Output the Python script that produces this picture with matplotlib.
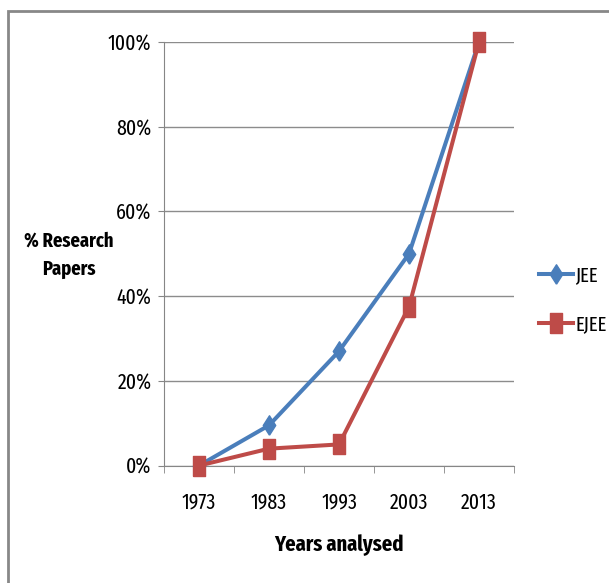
import matplotlib
matplotlib.use("Agg")
import matplotlib.pyplot as plt
from matplotlib.patches import Rectangle

years = ["1973", "1983", "1993", "2003", "2013"]
jee = [0, 9.5, 27, 50, 100]
ejee = [0, 4, 5, 37.5, 100]

plt.rcParams["font.family"] = ["Fira Sans Extra Condensed", "Saira ExtraCondensed", "DejaVu Sans"]

# the source picture is squeezed sideways, so the markers are tall shapes
tall_diamond = [(0, -0.5), (0.32, 0), (0, 0.5), (-0.32, 0), (0, -0.5)]
tall_square = [(-0.29, -0.5), (0.29, -0.5), (0.29, 0.5), (-0.29, 0.5), (-0.29, -0.5)]

fig = plt.figure(figsize=(6.09, 5.83), dpi=100)
ax = fig.add_axes([164 / 609, 1 - 465.6 / 583, 350 / 609, (465.6 - 42) / 583])

x = list(range(len(years)))
ax.plot(x, jee, color="#4A7EBB", lw=2.9, marker=tall_diamond, ms=14, label="JEE",
        zorder=3, clip_on=False)
ax.plot(x, ejee, color="#BE4B48", lw=2.9, marker=tall_square, ms=15, label="EJEE",
        zorder=4, clip_on=False)

ax.set_xlim(-0.5, 4.5)
ax.set_ylim(0, 100)
ax.set_yticks([0, 20, 40, 60, 80, 100])
ax.set_yticklabels([f"{v}%" for v in range(0, 101, 20)], fontsize=15.5)
ax.set_xticks(x)
ax.set_xticklabels(years, fontsize=15.5)
ax.tick_params(axis="x", length=0, pad=19)
ax.set_xticks([i - 0.5 for i in range(6)], minor=True)
ax.tick_params(axis="x", which="minor", length=5, color="#868686")
ax.tick_params(axis="y", length=4, color="#868686", pad=5)
ax.grid(axis="y", color="#8C8C8C", lw=1)
ax.set_axisbelow(True)
for s in ["top", "right"]:
    ax.spines[s].set_visible(False)
for s in ["left", "bottom"]:
    ax.spines[s].set_color("#868686")

ax.set_xlabel("Years analysed", fontsize=16, fontweight="bold", labelpad=15)
fig.text(69 / 609, 1 - 255 / 583, "% Research\nPapers", fontsize=14.5, fontweight="bold",
         ha="center", va="center", linespacing=1.55)

ax.legend(loc="center left", bbox_to_anchor=(529 / 609, 1 - 300 / 583),
          bbox_transform=fig.transFigure, frameon=False, fontsize=14.5, borderpad=0,
          handlelength=1.7, labelspacing=1.45, handletextpad=0.1)

fig.patches.append(Rectangle((8 / 609, -0.1), 1.2, 1 - 11 / 583 + 0.1, transform=fig.transFigure,
                             fill=False, ec="#888888", lw=2))

fig.savefig("out.png", dpi=100)
